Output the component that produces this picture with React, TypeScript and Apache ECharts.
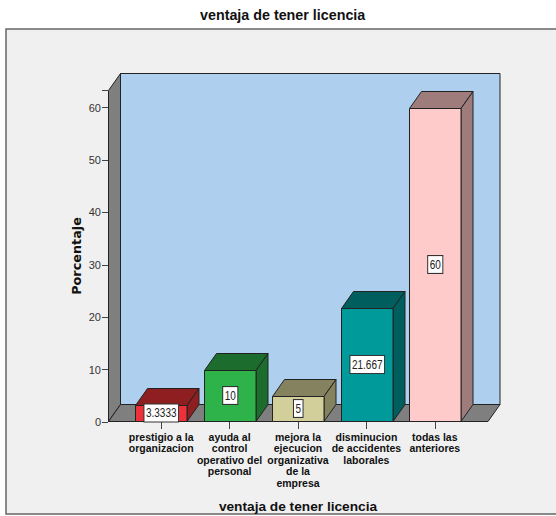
import React, { useEffect, useRef } from "react";
import * as echarts from "echarts";

const categories = [
  "prestigio a la\norganizacion",
  "ayuda al\ncontrol\noperativo del\npersonal",
  "mejora la\nejecucion\norganizativa\nde la\nempresa",
  "disminucion\nde accidentes\nlaborales",
  "todas las\nanteriores",
];
const values = [3.3333, 10, 5, 21.667, 60];
const frontColors = ["#ee3138", "#2db34a", "#d3cf9a", "#009a9a", "#ffcaca"];
const darkColors = ["#8f1e21", "#1b6c2d", "#85835f", "#005e5e", "#9e7c7c"];
const yTicks = [0, 10, 20, 30, 40, 50, 60];

const DX = 12;
const DY = -17;
const LINE = "#222222";
const SANS = "'Liberation Sans', Arial, sans-serif";

export default function App() {
  const ref = useRef<HTMLDivElement>(null);
  useEffect(() => {
    const chart = echarts.init(ref.current!, undefined, { renderer: "svg" });
    const shapeStyle = (fill: string) => ({ fill, stroke: LINE, lineWidth: 1 });
    chart.setOption({
      animation: false,
      backgroundColor: "#ffffff",
      title: {
        text: "ventaja de tener licencia",
        left: 195,
        top: 3,
        textStyle: { fontFamily: SANS, fontSize: 14.3, fontWeight: "bold", color: "#111" },
      },
      graphic: [
        { type: "rect", z: -10, silent: true, shape: { x: 6, y: 29, width: 560, height: 485 }, style: { fill: "#f0f0f0", stroke: "#666666", lineWidth: 1.5 } },
        { type: "rect", z: -9, silent: true, shape: { x: 120.5, y: 73.5, width: 379.5, height: 331 }, style: shapeStyle("#aed0ee") },
        { type: "polygon", z: -9, silent: true, shape: { points: [[108.5, 90.5], [120.5, 73.5], [120.5, 404.5], [108.5, 421.5]] }, style: shapeStyle("#7f7f7f") },
        { type: "polygon", z: -9, silent: true, shape: { points: [[108.5, 421.5], [120.5, 404.5], [500, 404.5], [488, 421.5]] }, style: shapeStyle("#7f7f7f") },
      ],
      grid: { left: 127, top: 90, width: 342, height: 332, containLabel: false, outerBoundsMode: "none" },
      xAxis: {
        type: "category",
        data: categories,
        axisLine: { show: false },
        axisTick: { show: true, alignWithLabel: true, length: 7, lineStyle: { color: "#444444" } },
        axisLabel: {
          interval: 0,
          margin: 9,
          lineHeight: 11.5,
          fontFamily: SANS,
          fontSize: 10.5,
          fontWeight: "bold",
          color: "#111",
          align: "center",
        },
        name: "ventaja de tener licencia",
        nameLocation: "middle",
        nameGap: 77,
        nameTextStyle: { fontFamily: SANS, fontSize: 13.7, fontWeight: "bold", color: "#111" },
      },
      yAxis: {
        type: "value",
        min: 0,
        max: 63.36,
        interval: 10,
        offset: 19,
        splitLine: { show: false },
        axisLine: { show: false },
        axisTick: { show: true, length: 6, lineStyle: { color: "#444444" } },
        axisLabel: {
          margin: 7,
          fontFamily: SANS,
          fontSize: 11,
          color: "#333",
          formatter: (v: number) => (yTicks.includes(v) ? String(v) : ""),
        },
        name: "Porcentaje",
        nameLocation: "middle",
        nameGap: 25,
        nameMoveOverlap: false,
        nameTextStyle: { fontFamily: "'DejaVu Sans', sans-serif", fontSize: 12.8, fontWeight: "bold", color: "#111" },
      },
      series: [
        {
          type: "custom",
          data: values.map((v, i) => [i, v]),
          encode: { x: 0, y: 1 },
          clip: false,
          renderItem: (params: any, api: any) => {
            const i = api.value(0);
            const v = api.value(1);
            const [cx, top] = api.coord([i, v]);
            const [, base] = api.coord([i, 0]);
            const w = 51.5;
            const l = Math.round(cx - w / 2) + 0.5;
            const r = l + w;
            const t = Math.round(top) + 0.5;
            const b = Math.round(base) - 0.5;
            return {
              type: "group",
              children: [
                { type: "polygon", shape: { points: [[l, t], [l + DX, t + DY], [r + DX, t + DY], [r, t]] }, style: shapeStyle(darkColors[i]) },
                { type: "polygon", shape: { points: [[r, t], [r + DX, t + DY], [r + DX, b + DY], [r, b]] }, style: shapeStyle(darkColors[i]) },
                { type: "rect", shape: { x: l, y: t, width: w, height: b - t }, style: shapeStyle(frontColors[i]) },
                {
                  type: "text",
                  x: l + w / 2,
                  y: (t + b) / 2 - 0.5,
                  scaleY: 1.2,
                  style: {
                    text: String(v),
                    align: "center",
                    verticalAlign: "middle",
                    fontFamily: SANS,
                    fontSize: 10,
                    fill: "#222",
                    backgroundColor: "#ffffff",
                    borderColor: "#333333",
                    borderWidth: 1,
                    padding: [2, 1.5, 2, 1.5],
                  },
                },
              ],
            };
          },
        },
      ],
    });
    return () => chart.dispose();
  }, []);
  return <div ref={ref} style={{ position: "fixed", left: 0, top: 0, width: 556, height: 516 }} />;
}
